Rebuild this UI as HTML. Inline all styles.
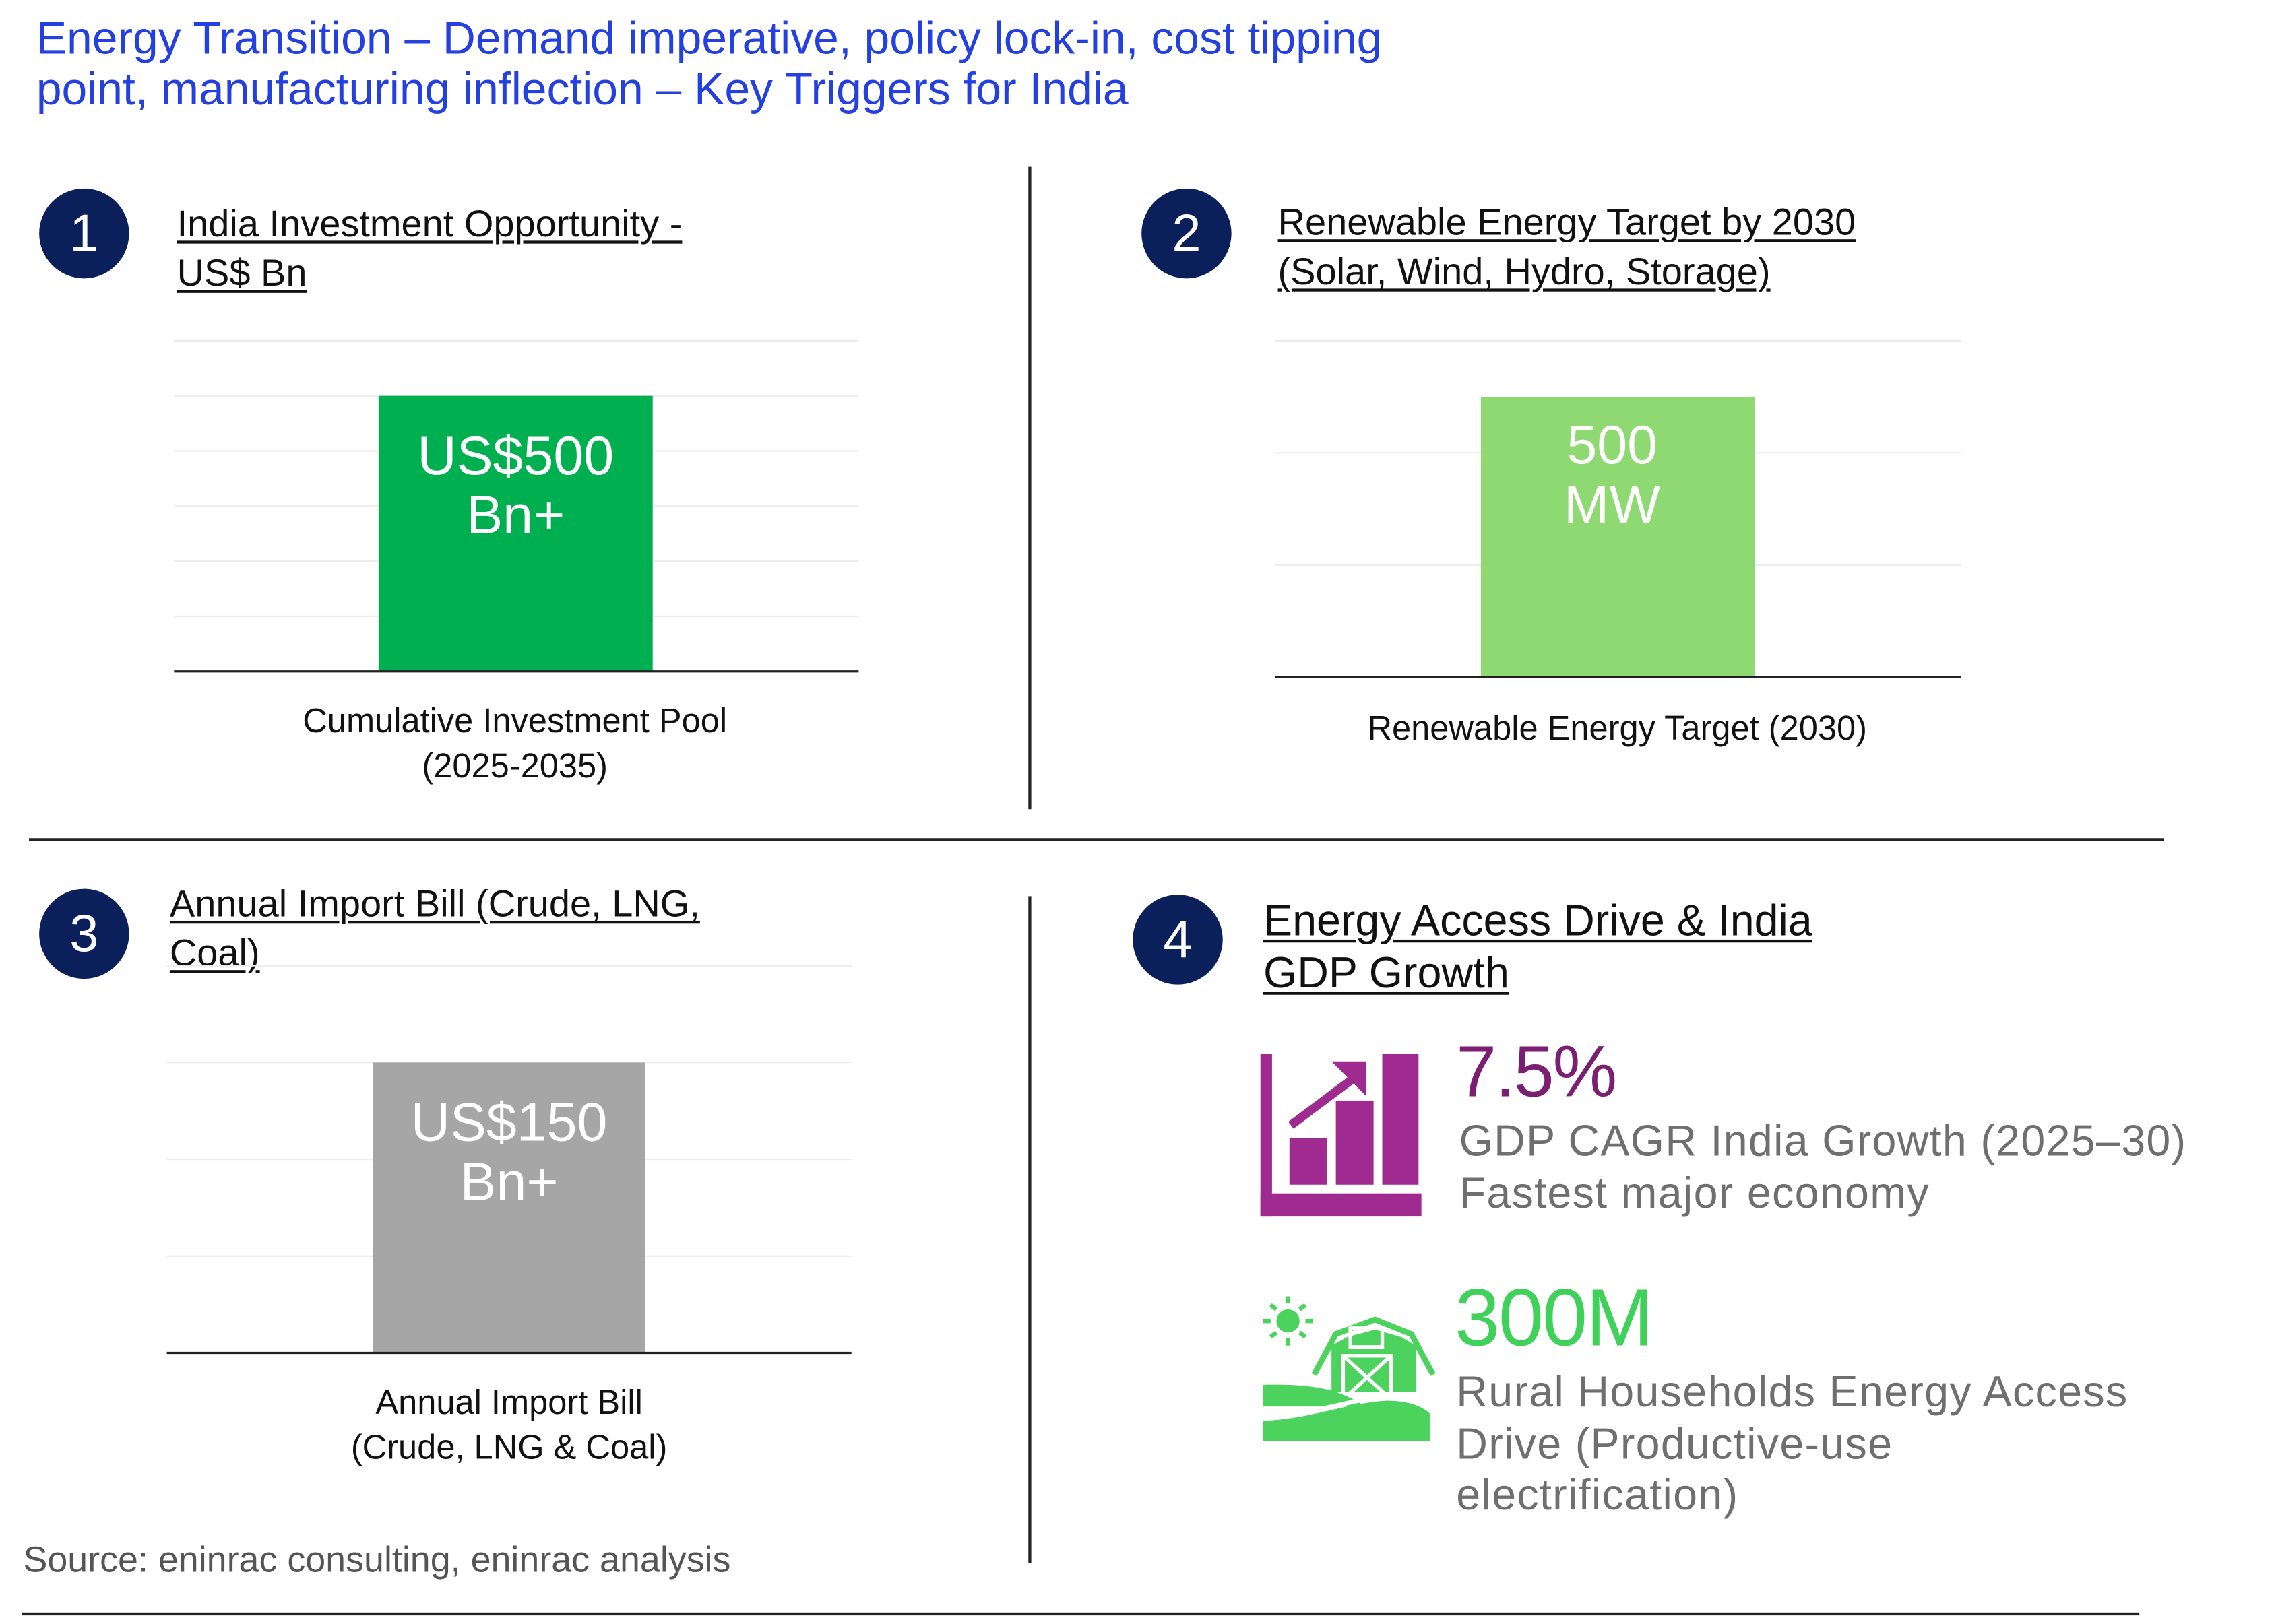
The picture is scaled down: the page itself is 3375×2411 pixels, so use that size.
<!DOCTYPE html>
<html><head><meta charset="utf-8">
<style>
html,body{margin:0;padding:0;background:#fff;overflow:hidden}
#wrap{position:absolute;left:0;top:0;width:1550px;height:1120px;transform:scale(2.1527);transform-origin:0 0;font-family:"Liberation Sans",sans-serif}
.abs{position:absolute;white-space:nowrap}
.title{left:25px;top:9px;color:#2440e0;font-size:31.5px;line-height:35px;letter-spacing:0}
.circ{position:absolute;width:62px;height:62px;border-radius:50%;background:#0b1f5a;color:#fff;font-size:36px;line-height:62px;text-align:center}
.head{color:#111;font-size:26px;line-height:34px;text-decoration:underline;text-underline-offset:3px;text-decoration-thickness:1.5px}
.lab{color:#111;font-size:23.5px;line-height:31px;text-align:center}
.line{position:absolute;background:#222}
.desc{font-size:30px;color:#6f6f6f;letter-spacing:0.6px}
</style></head><body>
<div id="wrap">
<div class="abs title">Energy Transition – Demand imperative, policy lock-in, cost tipping<br>point, manufacturing inflection – Key Triggers for India</div>

<div class="line" style="left:709px;top:115px;width:1.5px;height:443px"></div>
<div class="line" style="left:20px;top:578px;width:1472px;height:1.5px"></div>
<div class="line" style="left:709px;top:618px;width:1.5px;height:460px"></div>
<div class="line" style="left:15px;top:1112px;width:1460px;height:1.5px"></div>

<div class="circ" style="left:27px;top:130px">1</div>
<div class="abs head" style="left:122px;top:137px">India Investment Opportunity -<br>US$ Bn</div>
<div class="circ" style="left:787px;top:130px">2</div>
<div class="abs head" style="left:881px;top:136px">Renewable Energy Target by 2030<br>(Solar, Wind, Hydro, Storage)</div>
<div class="circ" style="left:27px;top:613px">3</div>
<div class="abs head" style="left:117px;top:606px">Annual Import Bill (Crude, LNG,<br>Coal)</div>
<div class="circ" style="left:781px;top:617px">4</div>
<div class="abs head" style="left:871px;top:618px;font-size:30px;line-height:36px">Energy Access Drive &amp; India<br>GDP Growth</div>

<div class="abs lab" style="left:155px;top:482px;width:400px">Cumulative Investment Pool<br>(2025-2035)</div>
<div class="abs lab" style="left:915px;top:487px;width:400px">Renewable Energy Target (2030)</div>
<div class="abs lab" style="left:151px;top:952px;width:400px">Annual Import Bill<br>(Crude, LNG &amp; Coal)</div>

<svg class="abs" style="left:0;top:0" width="1550" height="1101" id="charts"></svg>

<!-- GDP icon -->
<svg class="abs" style="left:866px;top:722px" width="118" height="120">
<g fill="#a02b90">
<rect x="3" y="5" width="8" height="112"/><rect x="3" y="101" width="111" height="16"/>
<rect x="23" y="63" width="26" height="32"/><rect x="55" y="37" width="26" height="58"/><rect x="87" y="5" width="25" height="90"/>
</g>
<line x1="24" y1="54" x2="72" y2="18" stroke="#a02b90" stroke-width="6"/>
<polygon points="52,10 76,10 76,34" fill="#a02b90"/>
</svg>
<div class="abs" style="left:1004px;top:710px;font-size:50px;color:#7b1f72;letter-spacing:-1px">7.5%</div>
<div class="abs desc" style="left:1006px;top:770px;line-height:36px">GDP CAGR India Growth (2025–30)<br>Fastest major economy</div>

<!-- farm icon -->
<svg class="abs" style="left:866px;top:890px" width="125" height="110">
<g fill="#4bd35e" stroke="#4bd35e">
<circle cx="22" cy="21" r="8" stroke="none"/>
<g stroke-width="3"><line x1="22" y1="4" x2="22" y2="9"/><line x1="22" y1="33" x2="22" y2="38"/><line x1="5" y1="21" x2="10" y2="21"/><line x1="34" y1="21" x2="39" y2="21"/><line x1="10" y1="10" x2="14" y2="13"/><line x1="30" y1="29" x2="34" y2="32"/><line x1="30" y1="13" x2="34" y2="10"/><line x1="10" y1="32" x2="14" y2="29"/></g>
<polyline points="48,58 63,30 90,20 115,30 130,58" fill="none" stroke-width="4" transform="translate(-8,0)"/>
<polygon points="60,70 60,38 71,32 90,27 108,32 118,38 118,70" stroke="none" transform="translate(-8,0)"/>
</g>
<rect x="65" y="26" width="22" height="13" fill="none" stroke="#fff" stroke-width="2.5"/>
<rect x="60" y="45" width="33" height="30" fill="none" stroke="#fff" stroke-width="2.5"/>
<line x1="60" y1="45" x2="93" y2="75" stroke="#fff" stroke-width="2.5"/><line x1="93" y1="45" x2="60" y2="75" stroke="#fff" stroke-width="2.5"/>
<path d="M5,65 C45,64 60,70 75,80 L5,80 Z" fill="#4bd35e"/>
<path d="M5,90 C40,88 60,78 90,76 C105,76 115,80 120,85 L120,104 L5,104 Z" fill="#4bd35e"/>
<path d="M5,87 C40,86 60,76 90,73" fill="none" stroke="#fff" stroke-width="3"/>
</svg>
<div class="abs" style="left:1003px;top:876px;font-size:56px;color:#3fd15a;letter-spacing:-1px">300M</div>
<div class="abs desc" style="left:1004px;top:943px;line-height:35.5px">Rural Households Energy Access<br>Drive (Productive-use<br>electrification)</div>

<div class="abs" style="left:16px;top:1062px;font-size:25px;color:#555">Source: eninrac consulting, eninrac analysis</div>
</div>

<script>
const chartNames = ["investment-pool", "renewable-target", "import-bill"];
const chartValues = [500, 500, 150];
const chartMax = [600, 600, 200];
const chartStep = [100, 200, 50];
const barLabelLine1 = ["US$500", "500", "US$150"];
const barLabelLine2 = ["Bn+", "MW", "Bn+"];
const barColors = ["#00b050", "#8fd973", "#a6a6a6"];
const frames = [
  {x0:120,x1:592,top:235,base:463,bx:261,bw:189},
  {x0:879,x1:1352,top:235,base:467,bx:1021,bw:189},
  {x0:115,x1:587,top:666,base:933,bx:257,bw:188}
];
const NS="http://www.w3.org/2000/svg";
const svg=document.getElementById('charts');
function mk(tag,attrs){const e=document.createElementNS(NS,tag);for(const k in attrs)e.setAttribute(k,attrs[k]);return e;}
chartNames.forEach((name,i)=>{
  const f=frames[i];
  const y=v=>f.base-(v/chartMax[i])*(f.base-f.top);
  for(let t=chartStep[i];t<=chartMax[i];t+=chartStep[i]){
    const g=mk('line',{x1:f.x0,x2:f.x1,y1:y(t),y2:y(t),stroke:'#ececec','stroke-width':1});
    
    
    svg.appendChild(g);
  }
  const b=mk('rect',{x:f.bx,y:y(chartValues[i]),width:f.bw,height:f.base-y(chartValues[i]),fill:barColors[i]});
  
  
  svg.appendChild(b);
  const ax=mk('line',{x1:f.x0,x2:f.x1,y1:f.base,y2:f.base,stroke:'#222','stroke-width':1.5});
  
  
  svg.appendChild(ax);
  const cx=f.bx+f.bw/2-(i===1?4:0);
  const yt=y(chartValues[i]);
  [barLabelLine1[i],barLabelLine2[i]].forEach((s,j)=>{
    const t=mk('text',{x:cx,y:yt+(i===1?46:54)+j*41,'text-anchor':'middle',fill:'#fff','font-size':37.5,'font-family':'Liberation Sans, sans-serif'});
    t.textContent=s;
    
    
    svg.appendChild(t);
  });
});
</script>
</body></html>
